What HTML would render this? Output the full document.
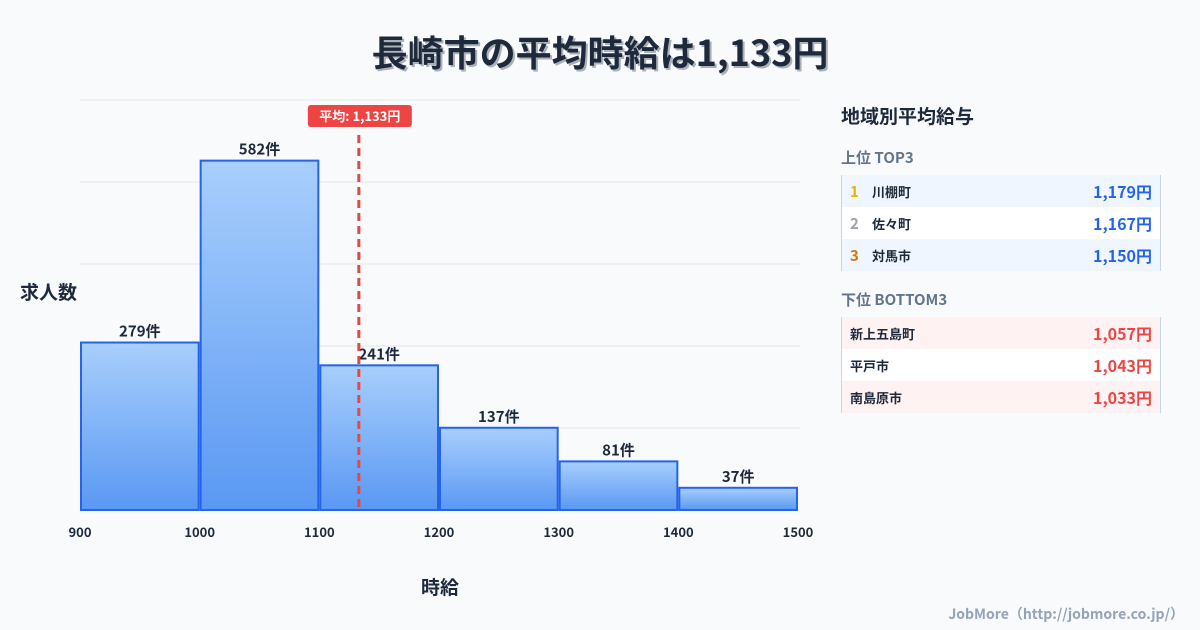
<!DOCTYPE html>
<html><head><meta charset="utf-8">
<style>
body{margin:0;width:1200px;height:630px;background:#f8fafc;font-family:"Noto Sans CJK JP","Liberation Sans",sans-serif;overflow:hidden;position:relative;color:#1e293b}
.title{position:absolute;top:25px;left:0;width:1200px;text-align:center;font-size:36px;line-height:52px;font-weight:bold;text-shadow:2px 2px 0 rgba(30,41,59,0.35);color:#1e293b}
.panel{position:absolute;left:841px;top:100px;width:320px}
.ph{font-size:19px;line-height:32px;font-weight:bold;height:32px}
.sub{font-size:15px;line-height:24px;font-weight:bold;color:#64748b;height:24px}
.rows{border-left:1px solid #cbd5e1;border-right:1px solid #cbd5e1;margin-top:5px;margin-bottom:17px}
.row{height:32px;display:flex;align-items:center;font-size:13px;font-weight:bold;padding:0 8px}
.row .v{margin-left:auto;font-size:16px}
.rk{width:22px;font-size:15px}
.foot{position:absolute;right:16px;bottom:6px;font-size:14px;font-weight:bold;color:#94a3b8}
</style></head><body>
<div class="title">長崎市の平均時給は1,133円</div>
<svg id="chart" width="830" height="630" style="position:absolute;left:0;top:0">
<defs><linearGradient id="g" x1="0" y1="0" x2="0" y2="1"><stop offset="0" stop-color="#a8cffc"/><stop offset="1" stop-color="#5a98f3"/></linearGradient></defs>
</svg>
<div class="panel">
<div class="ph">地域別平均給与</div>
<div style="height:14px"></div>
<div class="sub">上位 TOP3</div>
<div class="rows">
<div class="row" style="background:#eff6ff"><span class="rk" style="color:#eab308">1</span>川棚町<span class="v" style="color:#2563eb">1,179円</span></div>
<div class="row" style="background:#fff"><span class="rk" style="color:#9ca3af">2</span>佐々町<span class="v" style="color:#2563eb">1,167円</span></div>
<div class="row" style="background:#eff6ff"><span class="rk" style="color:#d97706">3</span>対馬市<span class="v" style="color:#2563eb">1,150円</span></div>
</div>
<div class="sub">下位 BOTTOM3</div>
<div class="rows">
<div class="row" style="background:#fef2f2">新上五島町<span class="v" style="color:#ef4444">1,057円</span></div>
<div class="row" style="background:#fff">平戸市<span class="v" style="color:#ef4444">1,043円</span></div>
<div class="row" style="background:#fef2f2">南島原市<span class="v" style="color:#ef4444">1,033円</span></div>
</div>
</div>
<div class="foot">JobMore（http://jobmore.co.jp/）</div>
<script>
const binStarts=[900,1000,1100,1200,1300,1400];
const counts=[279,582,241,137,81,37];
const xTicks=[900,1000,1100,1200,1300,1400,1500];
const meanValue=1133;
const yMax=683, gridCount=5;
const svg=document.getElementById('chart');
const NS='http://www.w3.org/2000/svg';
const x=v=>80+(v-900)*(718/600);
const y=v=>510-v*(410/yMax);
function mk(t,a,txt){const e=document.createElementNS(NS,t);for(const k in a)e.setAttribute(k,a[k]);if(txt!=null)e.textContent=txt;svg.appendChild(e);return e;}
for(let i=0;i<=gridCount;i++){const gy=y(yMax*i/gridCount);
const l=mk('line',{x1:80,x2:800,y1:gy,y2:gy,stroke:'#e2e8f0','stroke-width':1});

}
binStarts.forEach((b,i)=>{const x0=x(b)+1,x1=x(b+100)-1;
const r=mk('rect',{x:x0,y:y(counts[i]),width:x1-x0,height:510-y(counts[i]),fill:'url(#g)',stroke:'#2563eb','stroke-width':2});


const t=mk('text',{x:(x0+x1)/2,y:y(counts[i])-6,'text-anchor':'middle','font-size':15,'font-weight':'bold',fill:'#1e293b'},counts[i]+'件');

});
xTicks.forEach(v=>{const t=mk('text',{x:x(v),y:537,'text-anchor':'middle','font-size':13,'font-weight':'bold',fill:'#1e293b'},v);

});
const mx=x(meanValue);
const ml=mk('line',{x1:mx,x2:mx,y1:135,y2:510,stroke:'#ef4444','stroke-width':3,'stroke-dasharray':'8,5'});


const mb=mk('rect',{x:mx-51,y:105,width:104,height:22,rx:3,fill:'#ef4444'});


const mt=mk('text',{x:mx+1,y:121,'text-anchor':'middle','font-size':13,'font-weight':'bold',fill:'#fff'},'平均: 1,133円');


const yt=mk('text',{x:20,y:299,'font-size':19,'font-weight':'bold',fill:'#1e293b'},'求人数');


const xt=mk('text',{x:440,y:594,'text-anchor':'middle','font-size':19,'font-weight':'bold',fill:'#1e293b'},'時給');


</script>
</body></html>
